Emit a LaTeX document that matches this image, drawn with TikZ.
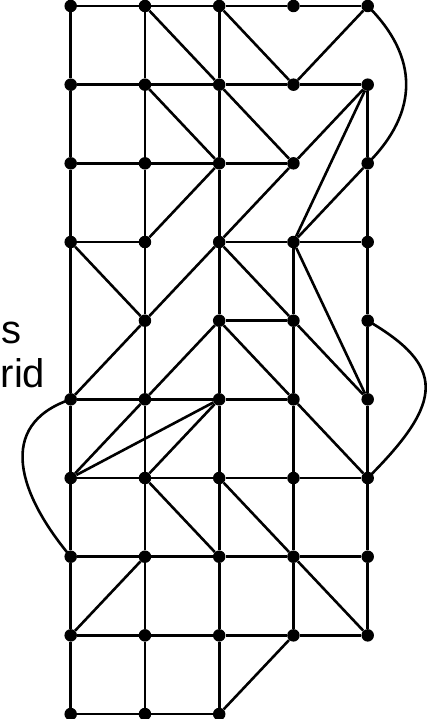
\documentclass[tikz,border=0pt]{standalone}
\usepackage{fontspec}
\setmainfont{Liberation Sans}
\begin{document}
\begin{tikzpicture}[x=1pt,y=-1pt,
  edge/.style={line width=2.6pt,black},
  dot/.style={circle,fill=black,inner sep=0pt,minimum size=12.5pt},
  lbl/.style={anchor=base west,inner sep=0pt,font=\fontsize{40}{48}\selectfont}]
\useasboundingbox[fill=white] (0,0) rectangle (428,719);
% nodes
\foreach \c/\r in {0/0,1/0,2/0,3/0,4/0,
                   0/1,1/1,2/1,3/1,4/1,
                   0/2,1/2,2/2,3/2,4/2,
                   0/3,1/3,2/3,3/3,4/3,
                   1/4,2/4,3/4,4/4,
                   0/5,1/5,2/5,3/5,4/5,
                   0/6,1/6,2/6,3/6,4/6,
                   0/7,1/7,2/7,3/7,4/7,
                   0/8,1/8,2/8,3/8,4/8,
                   0/9,1/9,2/9}
  \node[dot] (n\c\r) at ({70.7+74.25*\c},{6+78.67*\r}) {};
% horizontal
\foreach \a/\b in {00/10,10/20,20/30,30/40,
                   01/11,11/21,21/31,31/41,
                   02/12,12/22,22/32,
                   03/13,23/33,33/43,
                   24/34,
                   05/15,15/25,25/35,
                   06/16,16/26,26/36,36/46,
                   07/17,17/27,27/37,37/47,
                   08/18,18/28,28/38,38/48,
                   09/19,19/29}
  \draw[edge] (n\a) -- (n\b);
% vertical
\foreach \a/\b in {00/01,01/02,02/03,03/05,05/06,06/07,07/08,08/09,
                   10/11,11/12,12/13,13/14,14/15,15/16,16/17,17/18,18/19,
                   20/21,21/22,22/23,23/24,24/25,25/26,26/27,27/28,28/29,
                   33/34,34/35,35/36,36/37,37/38,
                   41/42,42/43,43/44,44/45,45/46,46/47,47/48}
  \draw[edge] (n\a) -- (n\b);
% diagonals
\foreach \a/\b in {10/21,20/31,31/40,11/22,21/32,32/41,41/33,42/33,
                   22/13,32/23,03/14,23/14,23/34,33/45,34/45,14/05,
                   24/15,24/35,35/46,15/06,06/25,16/25,16/27,26/37,
                   37/48,17/08,38/29}
  \draw[edge] (n\a) -- (n\b);
% curves
\draw[edge] (n40.center) .. controls (419,57) and (419,112) .. (n42.center);
\draw[edge] (n44.center) .. controls (445,366) and (445,401) .. (n46.center);
\draw[edge] (n05.center) .. controls (-5,425) and (19,495) .. (n07.center);
% text
\node[lbl] (t1) at (1.5,343) {s};
\node[lbl] (t2) at (0.5,387) {rid};
\end{tikzpicture}
\end{document}
